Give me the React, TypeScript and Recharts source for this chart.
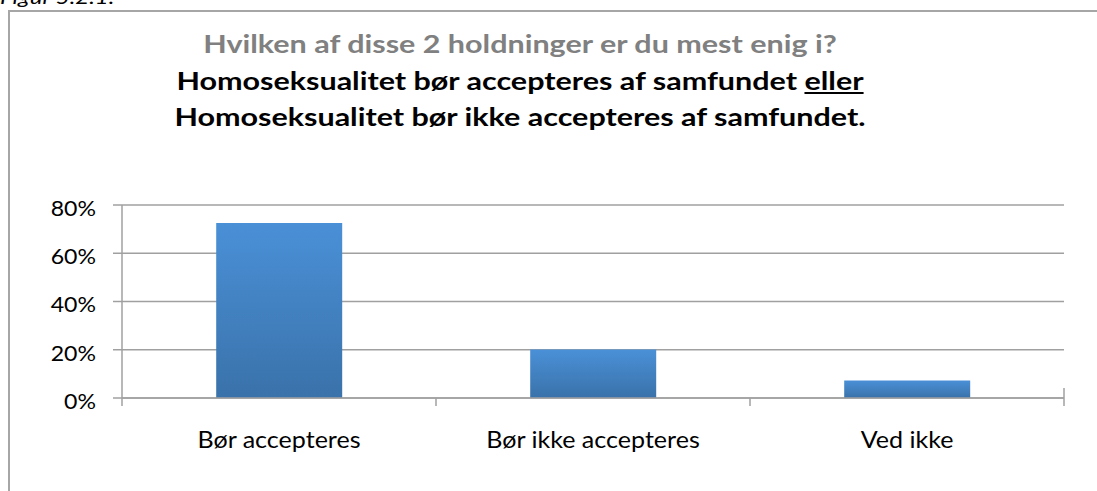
import React from 'react';
import { BarChart, Bar, XAxis, YAxis, CartesianGrid } from 'recharts';

const categories = ['Bør accepteres', 'Bør ikke accepteres', 'Ved ikke'];
const shares = [72.5, 20.1, 7.3];
const yTicks = [0, 20, 40, 60, 80];

const titleLines = [
  'Hvilken af disse 2 holdninger er du mest enig i?',
  'Homoseksualitet bør accepteres af samfundet',
  'Homoseksualitet bør ikke accepteres af samfundet.',
];

const data = categories.map((name, i) => ({ name, value: shares[i] }));

const GRID = '#a0a0a0';
const FONT = 'Lato, "Open Sans", sans-serif';

const YTick = ({ x, y, payload }: any) => (
  <text
    transform={`translate(${x},${y + 3}) scale(1.05,1)`}
    textAnchor="end"
    dy="0.355em"
    fill="#000"
    fontSize={22}
    fontFamily={FONT}
  >
    {`${payload.value}%`}
  </text>
);

const CategoryTick = ({ x, y, payload, index, visibleTicksCount }: any) => {
  const half = payload.offset || 0;
  const last = index === (visibleTicksCount ?? categories.length) - 1;
  return (
    <g>
      <line x1={x - half} x2={x - half} y1={y} y2={y + 8} stroke={GRID} strokeWidth={1.5} />
      {last && <line x1={x + half} x2={x + half} y1={y - 10} y2={y + 8} stroke={GRID} strokeWidth={1.5} />}
      <text
        transform={`translate(${x},${y + 34}) scale(1.09,1)`}
        textAnchor="middle"
        dy="0.71em"
        fill="#000"
        fontSize={23}
        fontFamily={FONT}
      >
        {payload.value}
      </text>
    </g>
  );
};

export default function App() {
  return (
    <div style={{ position: 'absolute', left: 0, top: 0, width: 1097, height: 491, overflow: 'hidden', background: '#fff', fontFamily: FONT }}>
      <div
        style={{
          position: 'absolute', left: 0, top: -14, fontSize: 20, fontStyle: 'italic', lineHeight: '20px', color: '#000',
          transform: 'scaleX(1.2)', transformOrigin: '0 0',
        }}
      >
        Figur 5.2.1.
      </div>
      <div style={{ position: 'absolute', left: 8, top: 10, width: 1200, height: 600, border: '2px solid #a6a6a6' }} />

      <div
        style={{
          position: 'absolute', left: 0, width: 1040, top: 25, textAlign: 'center', fontWeight: 700, fontSize: 25,
          lineHeight: '36.7px', transform: 'scaleX(1.22)', transformOrigin: '520px 0',
        }}
      >
        <div style={{ color: '#808080' }}>{titleLines[0]}</div>
        <div style={{ color: '#000' }}>
          {titleLines[1]} <span style={{ textDecoration: 'underline' }}>eller</span>
        </div>
        <div style={{ color: '#000' }}>{titleLines[2]}</div>
      </div>

      <div style={{ position: 'absolute', left: 0, top: 0 }}>
        <BarChart
          width={1097}
          height={491}
          data={data}
          margin={{ top: 205, right: 33, bottom: 0, left: 0 }}
          barCategoryGap="30%"
        >
          <defs>
            <linearGradient id="barFill" x1="0" y1="0" x2="0" y2="1">
              <stop offset="0%" stopColor="#4a90d7" />
              <stop offset="100%" stopColor="#3a72aa" />
            </linearGradient>
          </defs>
          <CartesianGrid horizontal vertical={false} stroke={GRID} strokeWidth={1.5} />
          <YAxis
            width={122}
            domain={[0, 80]}
            ticks={yTicks}
            axisLine={{ stroke: GRID, strokeWidth: 1.5 }}
            tickLine={{ stroke: GRID, strokeWidth: 1.5 }}
            tickSize={9}
            tickMargin={17}
            tick={<YTick />}
            interval={0}
          />
          <XAxis
            dataKey="name"
            height={93}
            axisLine={{ stroke: GRID, strokeWidth: 1.5 }}
            tickLine={false}
            tickSize={0}
            tickMargin={0}
            tick={<CategoryTick />}
            interval={0}
          />
          <Bar dataKey="value" fill="url(#barFill)" isAnimationActive={false} />
        </BarChart>
      </div>
    </div>
  );
}
